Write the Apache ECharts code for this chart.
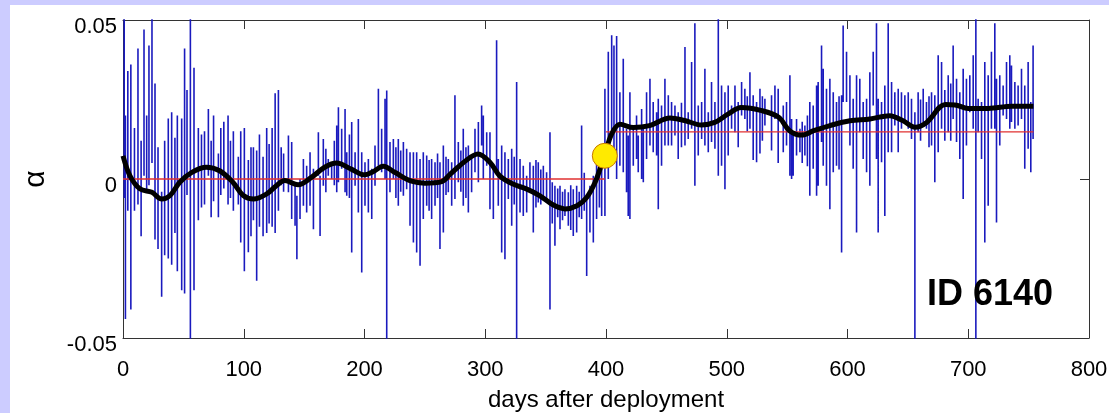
<!DOCTYPE html>
<html><head><meta charset="utf-8">
<script src="https://cdn.jsdelivr.net/npm/echarts@6/dist/echarts.min.js"></script>
<style>
html,body{margin:0;padding:0;width:1109px;height:413px;background:#ccccff;overflow:hidden;}
#panel{position:absolute;left:10px;top:5px;width:1099px;height:408px;background:#ffffff;}
#chart{width:1099px;height:408px;}
</style></head><body><div id="panel"><div id="chart"></div></div>
<script>
// x tick labels (days after deployment) and y ticks
const xTicks = [0, 100, 200, 300, 400, 500, 600, 700, 800];
const yTicks = [-0.05, 0, 0.05];

// raw alpha trace: [day, spike top, spike bottom]
const blueSpikes = [
[1,.060,-.006],[2,.020,-.044],[4,.034,-.010],[6.5,.036,-.041],[9.5,.016,-.010],[12.4,.041,-.008],[15,.012,-.018],[17.4,.047,.001],[19.6,.020,-.004],[21.5,.042,-.002],[24,.060,.005],[26.5,.030,-.019],[29,.010,-.022],[32,-.004,-.037],[34.5,.012,-.024],[37.5,.019,-.025],[40.3,.021,-.027],[43,.013,-.017],[45,.020,-.029],[48.6,.019,-.035],[51,.041,-.036],[53,.028,-.005],[55.8,.060,-.060],[58.8,.035,-.035],[62.4,.016,-.013],[65,.014,-.009],[67.5,.015,-.008],[70.7,.022,.001],[73,.012,-.012],[75,.020,-.007],[79,.008,-.012],[81,.016,-.005],[83.5,.018,-.003],[87,.020,-.008],[89,.012,-.006],[91.4,.015,-.010],[95.5,.007,-.008],[97.5,.015,-.020],[100.5,.016,-.029],[103.8,.006,-.023],[106,.010,-.018],[108,.010,-.013],[110.7,.009,-.032],[113,.014,-.015],[116,.007,-.018],[119,.016,-.017],[121,.011,-.014],[123.5,.016,-.015],[126,.027,-.017],[128.7,.028,-.010],[131,.010,-.002],[133,.008,-.004],
[137,.0137,-.0042],[139.7,.0116,-.0126],[142.5,-.0021,-.0147],[144,-.0053,-.0252],[146.6,0,-.0126],[149.4,.0063,-.0084],[152.1,.0042,-.0105],[154.9,.0084,-.0084],[157.7,.0032,-.0158],[161.8,.0147,.001],[163.2,.001,-.0179],[165.9,.0126,-.0021],[168,.0095,-.0042],[170,.0063,.001],[172.8,.0053,0],[175,.012,-.002],[177,.0168,-.0042],[178.4,.0226,-.001],[181.1,.0158,.0032],[183.9,.022,-.0042],[185.3,.0084,-.0053],[187.5,.014,-.006],[189.4,.0179,-.0231],[192.2,.0084,-.0021],[194.9,.0189,-.0105],[197.7,.0084,-.0294],[200.4,.0053,-.0084],[203.2,.0063,-.0105],[206,.0032,-.0126],[208.7,.0105,-.0021],[211.5,.0284,.0042],[214.2,.0158,.0021],[217,.0252,0],[218.4,.0278,-.060],[221.1,.0116,-.0042],[223.9,.0126,0],[226,.010,-.006],[228,.0126,-.0084],[230,.009,-.004],[232.2,.0116,-.0053],[234.9,.0095,-.0032],[237.7,.0084,-.0147],[240.5,.0084,-.020],[243.2,.0084,-.0231],[246,.0063,-.0273],[248.7,.0084,-.0126],[251.5,.0074,-.0084],[253.5,.006,-.010],[255.6,.0063,-.0126],[258.4,.0053,-.0084],[260.5,.008,-.006],[262.5,.0053,-.022],[265.3,.0105,-.0168],[267.5,.007,-.005],[269.4,.0063,-.0042],
[272.2,.0053,-.0084],[274.9,.0263,-.0063],[277.7,.0116,-.001],[279.8,.009,-.004],[281.8,.0158,-.0084],[284,.010,-.006],[286,.0105,-.0105],[288.7,.0063,-.0042],[291.5,.0158,.0021],[294.3,.0179,-.001],[297,.0231,.0105],[298.4,.020,0],[301.2,.0147,.0042],[303.9,.0147,-.0095],[306.7,.0042,-.0126],[309.4,.0436,.0021],[310.8,.0063,-.0084],[313.6,.0105,-.0231],[316.3,.0084,-.0252],[319.1,.0063,-.0063],[321.9,.0095,-.0147],[324,.007,-.008],[326,.0305,-.060],[328.8,.0063,-.0105],[331.5,.0042,-.0116],[334.3,.001,-.0105],[337,.0053,-.0042],[339.8,.0042,-.0168],[342,.006,-.009],[343.9,.0053,-.0074],[346,.003,-.008],[348.1,.0042,-.0063],[350.8,.0021,-.0074],[353.6,.0147,-.041],[355.5,-.001,-.014],[357.7,-.0021,-.021],[360,-.003,-.012],[361.9,-.0021,-.0158],[364,-.004,-.013],[366,-.0032,-.0116],[368.8,-.0042,-.0147],[370.8,-.002,-.016],[372.9,-.0032,-.0179],[375.7,-.0021,-.0168],[377.8,-.004,-.012],[379.8,.0168,-.0126],[382,.002,-.010],[384,-.0063,-.0305],[386.7,-.0021,-.0168],[389.5,.001,-.020],[392.2,.0063,-.0126],[394.5,.005,-.009],[396.4,.0042,-.0116],[399.1,.0284,-.0116],[401.9,.040,0],[404.7,.0452,.0147],[406.6,.042,.0084],
[408.8,.045,0],[411.5,.0273,.0042],[414.3,.0378,.0021],[417,.0158,-.0042],[418.4,.0137,-.0116],[419.8,.0273,-.0126],[422.6,.0158,.0042],[425.3,.020,.0063],[426.7,.0137,.0021],[429.5,.022,0],[430.9,.0158,-.001],[433.6,.0273,.0063],[436.4,.0315,.0105],[439.1,.0242,.0084],[441.9,.021,.0074],[443.3,.0252,-.0095],[446,.0231,.0042],[448.8,.0315,.0105],[451.6,.0263,.0105],[454.3,.0242,.0105],[457.1,.0231,.0137],[459.8,.021,.0063],[462.5,.024,.010],[465.4,.0415,.0105],[468.1,.021,.0126],[470.9,.0368,.0158],[473.6,.049,-.0021],[476.4,.0231,.0074],[479.2,.0242,.0126],[481.9,.0347,.0105],[484.7,.021,.0084],[487.4,.0305,.0116],[490.2,.0242,.0095],[493,.060,.001],[495.7,.0294,.0042],[498.5,.0273,-.0032],[501.2,.0294,.0074],[504,.0231,.0158],[506.8,.0294,.0147],[509.5,.0242,.010],[512.3,.0305,.020],[515,.0284,.0189],[517,.026,.015],[519.2,.0336,.0158],[521.9,.0263,.006],[524.7,.0242,.0053],[527.5,.0284,.008],[529.5,.026,.012],[531.6,.0252,.0168],[537.1,.0263,.009],[539.9,.0294,.0189],[542.6,.0284,.005],
[546.8,.0231,.0084],[549.5,.0242,.0105],[552.3,.0326,.001],[553.7,.0189,0],[555,.0147,.001],[557.8,.0189,.0074],[560.6,.0158,.0084],[562.5,.018,.005],[564.7,.0168,.0074],[566.8,.020,.004],[568.8,.0242,-.0053],[571.6,.0231,.0032],[574.4,.0294,-.0053],[575.7,.0305,-.0021],[578.5,.042,.0116],[579.9,.0347,.0042],[582.6,.0284,-.0021],[585.4,.0315,-.0095],[588.2,.0273,.0021],[590.9,.0242,.0042],[593,.026,.003],[595.1,.0263,-.0231],[596.4,.0483,.0242],[599.2,.040,.0242],[602,.0326,.0105],[604.7,.0252,.0032],[607.5,.0326,-.0168],[610.2,.0315,.0147],[613,.0242,.0063],[615.8,.0252,.0021],[618.5,.0336,-.0021],[621.3,.040,.0231],[624,.049,.0063],[625.4,.0252,-.0168],[628.2,.0242,.0053],[630.9,.0294,-.0116],[633.7,.049,.0084],[636.5,.0305,.0084],[639.2,.0273,.0168],[642,.0284,.0084],[644.7,.0273,.0158],[647.5,.0263,.0179],[650.3,.0273,.0158],[653,.0252,.0126],[655.8,.021,-.060],[658.5,.0273,.0147],[660.5,.025,.012],[662.7,.0284,.0179],[665.4,.0242,.0158],[667.5,.026,.010],[669.6,.0273,.0105],[672.3,.0263,-.001],[675.1,.0389,.0084],[677.9,.0368,.0158],
[680.6,.028,.012],[683.4,.0326,.0147],[685.5,.030,.012],[687.5,.042,.0189],[690.3,.0315,.0116],[693,.0273,.0063],[695.8,.0347,-.0063],[698.5,.0315,.0105],[701.3,.0326,.021],[704.1,.0389,.0158],[706.3,.060,-.060],[708.2,.0252,.0147],[711,.0242,.0063],[713.7,.0368,-.020],[716.5,.0326,-.0084],[719.2,.040,.0158],[722,.049,.0158],[723.4,.0315,-.0137],[726.1,.0326,.0105],[728.9,.0294,.020],[731.7,.0368,.0189],[734.4,.0389,.0158],[735.8,.0357,.0179],[738.6,.0305,.0158],[741.3,.0294,.0168],[744.1,.0347,.0189],[746.8,.0294,.0032],[749.6,.0368,.0095],[751.8,.0242,.0021],[753.7,.042,.0126]
];

// smoothed alpha (black curve)
const smoothDays = [0,5.8,14,24,32,39,47,57,69,80,91,99.6,108,119,127,134,145,156,167,177,189,200,207,215.6,225,239,250,264,271,282,294,304,312,323,334,345,356,366,376,384,391,396,399,404.7,411.6,422.6,436,453,465,479,490,501,512,529,543,552,562,572,585.5,602,618.6,635,646,656,665.6,681,689,700,716.6,736,754];
const smoothVals = [.0073,.001,-.0031,-.0042,-.0063,-.0052,-.001,.0021,.0037,.0026,-.001,-.0052,-.0063,-.0047,-.0021,-.0005,-.0018,.0005,.0037,.005,.0031,.0013,.0023,.004,.0021,-.0007,-.0013,-.0008,.0015,.0052,.0079,.0052,.001,-.0016,-.0031,-.0052,-.0081,-.0094,-.0084,-.0058,-.001,.0042,.0075,.0142,.0172,.0162,.0168,.0192,.0184,.017,.0178,.0204,.0225,.0215,.0194,.0152,.0138,.0152,.0168,.0183,.0189,.0199,.0183,.0163,.0178,.0234,.0233,.0222,.0222,.0229,.0229];

// mean levels before / after the change point (red)
const levelStart = [0, 400];
const levelEnd = [399, 754];
const levelValue = [0, 0.0148];

// detected change point (yellow)
const changePoint = [399, 0.0073];
const idLabel = 'ID 6140';

const FONT = "'Liberation Sans', Arial, sans-serif";

// each spike is drawn as its own vertical stroke
const blueData = [];
blueSpikes.forEach(s => {
  blueData.push([s[0], s[1]]);
  blueData.push([s[0], s[2]]);
  blueData.push([s[0], '-']);
});
const smoothData = smoothDays.map((d, i) => [d, smoothVals[i]]);

const chart = echarts.init(document.getElementById('chart'), null, {renderer: 'canvas'});
const axisCol = '#333333';
const baseX = {
  type: 'value', min: 0, max: 800, interval: 100,
  splitLine: {show: false},
  axisLine: {show: true, onZero: false, lineStyle: {color: axisCol, width: 1}},
  axisTick: {show: true, inside: true, length: 9, lineStyle: {color: axisCol}}
};
const baseY = {
  type: 'value', min: -0.05, max: 0.05, interval: 0.05,
  splitLine: {show: false},
  axisLine: {show: true, onZero: false, lineStyle: {color: axisCol, width: 1}},
  axisTick: {show: true, inside: true, length: 9, lineStyle: {color: axisCol}}
};

const series = [{
  type: 'line', data: blueData, showSymbol: false, symbol: 'none', clip: true, connectNulls: false,
  lineStyle: {color: '#1a1abe', width: 1.6}, z: 2, silent: true
}];
levelStart.forEach((s, i) => {
  series.push({
    type: 'line', data: [[s, levelValue[i]], [levelEnd[i], levelValue[i]]],
    symbol: 'none', lineStyle: {color: '#e03030', width: 1.3}, z: 3, silent: true
  });
});
series.push({
  type: 'line', data: smoothData, symbol: 'none', smooth: 0.35,
  lineStyle: {color: '#000000', width: 5}, z: 4, silent: true
});
series.push({
  type: 'scatter', data: [changePoint], symbolSize: 25,
  itemStyle: {color: '#ffea00', borderColor: '#c87800', borderWidth: 1, opacity: 1}, z: 5, silent: true
});

chart.setOption({
  animation: false,
  backgroundColor: '#ffffff',
  grid: {left: 113, top: 15, width: 966, height: 318, show: false, containLabel: false, outerBoundsMode: 'none'},
  xAxis: [
    Object.assign({}, baseX, {
      position: 'bottom',
      axisLabel: {fontSize: 22, color: '#000', fontFamily: FONT, margin: 21,
        formatter: v => xTicks.indexOf(v) >= 0 ? String(v) : ''},
      name: 'days after deployment', nameLocation: 'middle', nameGap: 50,
      nameTextStyle: {fontSize: 24, color: '#000', fontFamily: FONT}
    }),
    Object.assign({}, baseX, {position: 'top', axisLabel: {show: false}})
  ],
  yAxis: [
    Object.assign({}, baseY, {
      position: 'left',
      axisLabel: {fontSize: 22, color: '#000', fontFamily: FONT, margin: 6,
        verticalAlign: 'top', lineHeight: 14,
        formatter: v => { const t = yTicks.find(k => Math.abs(k - v) < 1e-9); return t === undefined ? '' : String(t); }},
      name: 'α', nameLocation: 'middle', nameGap: 72, nameRotate: 90,
      nameTextStyle: {fontSize: 30, color: '#000', fontFamily: FONT}
    }),
    Object.assign({}, baseY, {position: 'right', axisLabel: {show: false}})
  ],
  graphic: [{
    type: 'text', left: 917, top: 272, z: 10,
    style: {text: idLabel, font: 'bold 36px ' + FONT, fill: '#000'}
  }],
  series: series
});
</script></body></html>
